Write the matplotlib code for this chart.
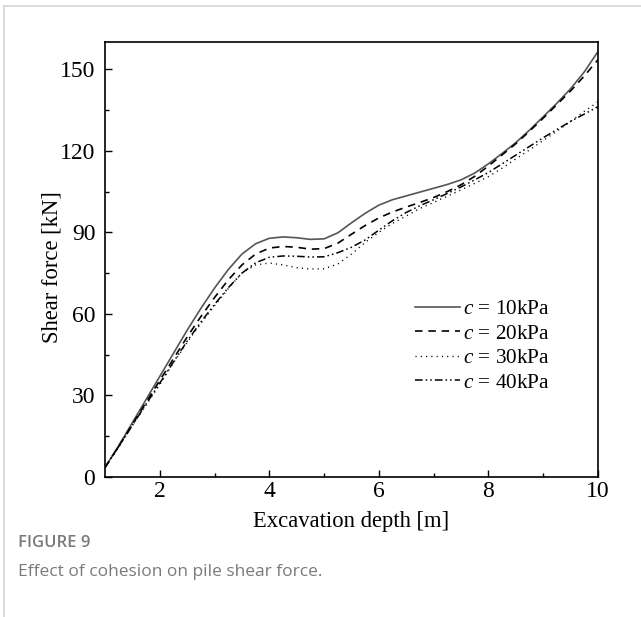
import matplotlib.pyplot as plt
from matplotlib.lines import Line2D

# Data
depth = [1.0, 1.25, 1.5, 1.75, 2.0, 2.25, 2.5, 2.75, 3.0, 3.25,
         3.5, 3.75, 4.0, 4.25, 4.5, 4.75, 5.0, 5.25, 5.5, 5.75,
         6.0, 6.25, 6.5, 6.75, 7.0, 7.25, 7.5, 7.75, 8.0, 8.25,
         8.5, 8.75, 9.0, 9.25, 9.5, 9.75, 10.0]
shear_c10 = [3.5, 11.5, 20.0, 28.5, 37.0, 45.5, 54.0, 62.0, 69.5, 76.3,
             82.0, 85.8, 87.8, 88.3, 88.0, 87.4, 87.6, 89.8, 93.5, 97.0,
             100.0, 102.0, 103.4, 104.8, 106.2, 107.6, 109.3, 111.8, 115.2, 119.0,
             123.0, 127.6, 132.5, 137.5, 142.8, 149.0, 156.5]
shear_c20 = [3.5, 11.3, 19.4, 27.5, 35.5, 43.5, 51.5, 59.0, 66.0, 72.5,
             78.0, 82.0, 84.2, 84.8, 84.5, 83.8, 84.0, 86.0, 89.3, 92.5,
             95.3, 97.5, 99.3, 101.0, 102.8, 105.0, 107.5, 110.6, 114.4, 118.5,
             122.6, 127.2, 132.0, 137.0, 142.0, 147.5, 153.5]
shear_c30 = [3.5, 11.0, 19.0, 26.5, 34.0, 42.0, 49.5, 56.5, 63.0, 69.3,
             75.0, 78.0, 78.7, 78.0, 77.0, 76.5, 76.6, 78.3, 82.0, 86.3,
             90.0, 93.3, 96.0, 98.8, 101.0, 103.3, 105.6, 108.0, 110.5, 113.6,
             117.0, 120.3, 123.8, 127.2, 130.8, 134.5, 138.0]
shear_c40 = [3.5, 11.2, 19.0, 26.8, 34.5, 42.3, 50.0, 57.0, 63.5, 69.6,
             75.0, 78.8, 80.8, 81.3, 81.2, 80.9, 81.0, 82.5, 84.5, 87.2,
             90.8, 94.3, 97.3, 99.8, 102.0, 104.3, 106.7, 109.3, 112.0, 115.2,
             118.4, 121.6, 124.8, 127.8, 130.8, 133.5, 136.2]
labels = ["10kPa", "20kPa", "30kPa", "40kPa"]
x_ticks = [2, 4, 6, 8, 10]
y_ticks = [0, 30, 60, 90, 120, 150]

plt.rcParams["font.family"] = ["Liberation Serif", "DejaVu Serif"]
plt.rcParams["mathtext.fontset"] = "custom"
plt.rcParams["mathtext.it"] = "Liberation Serif:italic"
plt.rcParams["mathtext.rm"] = "Liberation Serif"

fig = plt.figure(figsize=(6.41, 6.17), dpi=100)
ax = fig.add_axes([105 / 641, 1 - 477 / 617, 493 / 641, 435 / 617])

## Curves
styles = [
    dict(color="#555555", linestyle="-", linewidth=1.2),
    dict(color="black", linestyle=(0, (4.5, 3.5)), linewidth=1.2),
    dict(color="black", linestyle=(0, (0.8, 3.0)), linewidth=1.0),
    dict(color="black", linestyle=(0, (5, 2, 1, 2, 1, 2)), linewidth=1.1),
]
series = [shear_c10, shear_c20, shear_c30, shear_c40]
for ys, st, lab in zip(series, styles, labels):
    ax.plot(depth, ys, label=f"$c$ = {lab}", **st)

## Axes
ax.set_xlim(1, 10)
ax.set_ylim(0, 160)
ax.set_xticks(x_ticks)
ax.set_xticks([3, 5, 7, 9], minor=True)
ax.set_yticks(y_ticks)
ax.set_yticks([15, 45, 75, 105, 135], minor=True)
ax.tick_params(which="both", direction="in", labelsize=17)
ax.tick_params(which="major", length=5, width=1)
ax.tick_params(which="minor", length=3, width=1)
ax.tick_params(axis="y", pad=7)
ax.tick_params(axis="x", pad=3)
for sp in ax.spines.values():
    sp.set_linewidth(1.2)
ax.set_xlabel("Excavation depth [m]", fontsize=16.3, labelpad=6)
ax.set_ylabel("Shear force [kN]", fontsize=16.3)
ax.yaxis.set_label_coords(-0.087, 0.4816)

## Legend
ax.legend(loc="upper left", bbox_to_anchor=(0.629, 0.409), frameon=False,
          fontsize=15.3, handlelength=2.1, handletextpad=0.15,
          labelspacing=0.22, borderpad=0, borderaxespad=0)

## Page frame and caption
fig.add_artist(Line2D([3.5 / 641, 1], [1 - 5.5 / 617] * 2, color="#d4d4d4", linewidth=1.2))
fig.add_artist(Line2D([3.5 / 641] * 2, [0, 1 - 5.5 / 617], color="#d4d4d4", linewidth=1.2))
fig.text(18 / 641, 1 - 543 / 617, "FIGURE 9", family="Open Sans", fontweight="semibold",
         fontsize=12, color="#7a7a7a", va="center")
fig.text(18 / 641, 1 - 572 / 617, "Effect of cohesion on pile shear force.",
         family="Open Sans", fontsize=12.5, color="#7a7a7a", va="center")

fig.savefig("out.png", dpi=100)
